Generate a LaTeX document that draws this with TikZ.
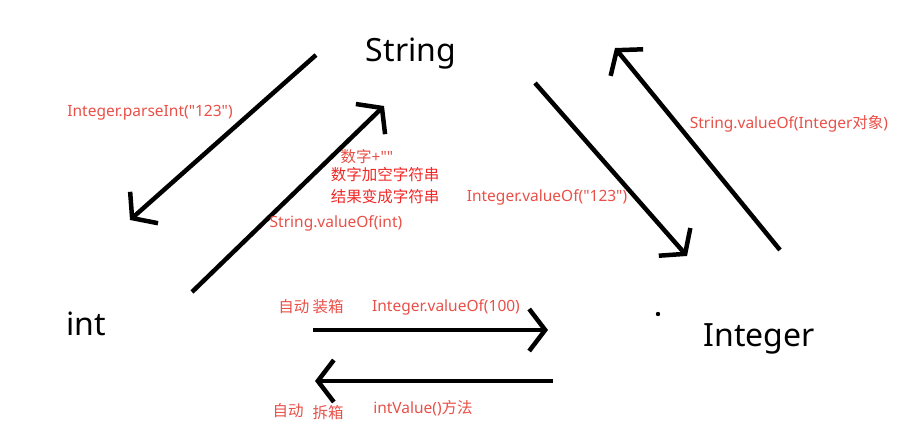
\documentclass[tikz,border=0pt]{standalone}
\usepackage{fontspec}
\newfontfamily\latin{Noto Sans}
\newfontfamily\cjk{Noto Sans CJK SC}
\usetikzlibrary{arrows.meta}
\definecolor{lbl}{RGB}{232,80,72}
\definecolor{lblb}{RGB}{240,40,40}
\tikzset{
  term/.style={font=\fontsize{32}{36}\selectfont\latin, inner sep=0pt, anchor=center},
  lab/.style={font=\fontsize{15.5}{18}\selectfont\latin, text=lbl, inner sep=0pt, anchor=center},
  labb/.style={font=\fontsize{15.5}{18}\selectfont\cjk, text=lblb, inner sep=0pt, anchor=center},
  conv/.style={line width=4.5pt, -{Straight Barb[length=16pt,width=42pt]}}
}
\begin{document}
\begin{tikzpicture}[x=1pt,y=-1pt]
\useasboundingbox (0,0) rectangle (922,446);
% terms
\node[term] (string) at (411,54) {String};
\node[term] (int) at (86,324) {int};
\node[term] (integer) at (759,339) {Integer};
% arrow endpoints
\coordinate (a1s) at (316,55);  \coordinate (a1e) at (130,220);
\coordinate (a2s) at (192,292); \coordinate (a2e) at (384,106);
\coordinate (a3s) at (535,83);  \coordinate (a3e) at (687,256);
\coordinate (a4s) at (780,250); \coordinate (a4e) at (615,48);
\coordinate (a5s) at (313,330); \coordinate (a5e) at (548,330);
\coordinate (a6s) at (553,381); \coordinate (a6e) at (315,381);
\draw[conv] (a1s) -- (a1e);
\draw[conv] (a2s) -- (a2e);
\draw[conv] (a3s) -- (a3e);
\draw[conv] (a4s) -- (a4e);
\draw[conv] (a5s) -- (a5e);
\draw[conv] (a6s) -- (a6e);
\fill (658,314) circle (2.2pt);
% labels
\node[lab] (l1) at (150,113) {Integer.parseInt("123")};
\node[lab] (l2) at (367,157) {{\cjk 数字}+""};
\node[labb] (l3) at (385,175) {数字加空字符串};
\node[labb] (l4) at (385,197) {结果变成字符串};
\node[lab] (l5) at (336,223) {String.valueOf(int)};
\node[lab] (l6) at (547,197) {Integer.valueOf("123")};
\node[lab] (l7) at (789,124) {String.valueOf(Integer{\cjk 对象})};
\node[lab] (l8) at (311,307) {{\cjk 自动\ 装箱}};
\node[lab] (l9) at (446,307) {Integer.valueOf(100)};
\node[lab] (l10) at (288,411) {\cjk 自动};
\node[lab] (l11) at (328,413) {\cjk 拆箱};
\node[lab] (l12) at (423,408) {intValue(){\cjk 方法}};
\end{tikzpicture}
\end{document}
